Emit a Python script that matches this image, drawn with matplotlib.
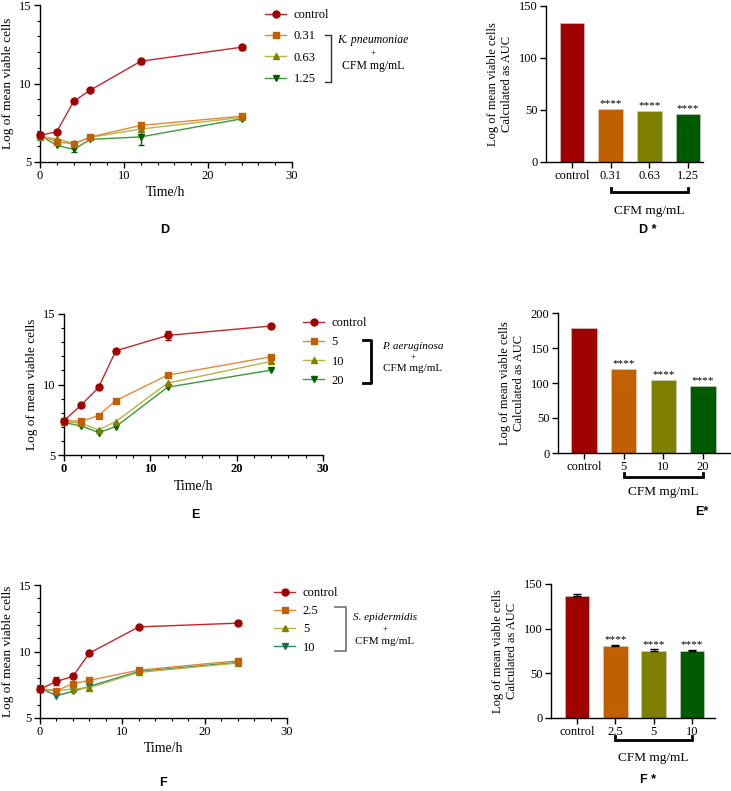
import matplotlib
matplotlib.use("Agg")
import matplotlib.pyplot as plt
from matplotlib.ticker import MultipleLocator
from matplotlib.transforms import blended_transform_factory

plt.rcParams['font.family'] = ['Liberation Serif', 'DejaVu Serif']

W, H = 731, 791
time_h = [0, 2, 4, 6, 12, 24]

# D - K. pneumoniae
d_labels = ['control', '0.31', '0.63', '1.25']
d_vals = [[6.7, 6.93, 8.86, 9.58, 11.42, 12.31],
          [6.7, 6.3, 6.15, 6.6, 7.33, 7.92],
          [6.6, 6.48, 6.19, 6.57, 7.1, 7.84],
          [6.7, 6.06, 5.8, 6.44, 6.6, 7.75]]
d_err = [[0.1, 0.05, 0.05, 0.05, 0.15, 0.15],
         [0, 0, 0, 0, 0, 0],
         [0, 0, 0, 0, 0, 0],
         [0, 0, 0.15, 0, 0.5, 0]]
d_auc = [133, 51, 49, 46.3]
d_auc_err = [0, 0, 0, 0]

# E - P. aeruginosa
e_labels = ['control', '5', '10', '20']
e_vals = [[7.44, 8.55, 9.79, 12.39, 13.48, 14.15],
          [7.44, 7.39, 7.8, 8.86, 10.66, 11.97],
          [7.37, 7.25, 6.78, 7.37, 10.1, 11.64],
          [7.3, 7.06, 6.59, 7.01, 9.81, 11.02]]
e_err = [[0, 0, 0, 0, 0.3, 0],
         [0, 0, 0, 0, 0, 0],
         [0, 0, 0, 0, 0, 0],
         [0, 0, 0, 0, 0, 0]]
e_auc = [179, 120.4, 104.7, 95.7]
e_auc_err = [0, 0, 0, 0]

# F - S. epidermidis
f_labels = ['control', '2.5', '5', '10']
f_vals = [[7.18, 7.75, 8.13, 9.88, 11.85, 12.13],
          [7.18, 7.05, 7.58, 7.83, 8.6, 9.3],
          [7.18, 7.05, 7.18, 7.28, 8.43, 9.13],
          [7.25, 6.68, 7.0, 7.38, 8.5, 9.18]]
f_err = [[0.2, 0.3, 0.1, 0, 0, 0.15],
         [0, 0, 0.15, 0, 0, 0],
         [0, 0, 0, 0, 0, 0],
         [0, 0, 0, 0, 0, 0]]
f_auc = [136.2, 80.2, 75.4, 74.6]
f_auc_err = [3, 1.5, 1.5, 1.5]

line_cols = ['#c0282a', '#e08a3a', '#b5b545', '#3a9a3a']
mark_cols = ['#a00000', '#c06000', '#808000', '#006000']
f_line_cols = ['#c0282a', '#e08a3a', '#b5b545', '#2a8a6a']
f_mark_cols = ['#a00000', '#c06000', '#808000', '#1a6a5a']
markers = ['o', 's', '^', 'v']
bar_cols = ['#a00000', '#c06000', '#808000', '#005a00']

fig = plt.figure(figsize=(W / 100, H / 100), dpi=100)


def add_ax(x0, x1, yt, yb):
    return fig.add_axes([x0 / W, 1 - yb / H, (x1 - x0) / W, (yb - yt) / H])


def style(ax):
    for s in ['top', 'right']:
        ax.spines[s].set_visible(False)
    for s in ['left', 'bottom']:
        ax.spines[s].set_linewidth(1.0)
    ax.tick_params(which='major', length=4, width=1, labelsize=9, pad=2)
    ax.tick_params(which='minor', length=2.5, width=0.8)


def line_panel(box, vals, errs, labels, lcols, mcols, leg_pos, bold_x=False):
    ax = add_ax(*box)
    for i in range(4):
        ax.plot(time_h, vals[i], color=lcols[i], lw=1, marker=markers[i], ms=5,
                mfc=mcols[i], mec=mcols[i], clip_on=False, label=labels[i],
                zorder=3 + (3 - i))
        ex = [t for t, e in zip(time_h, errs[i]) if e > 0]
        ey = [v for v, e in zip(vals[i], errs[i]) if e > 0]
        ee = [e for e in errs[i] if e > 0]
        if ee:
            ax.errorbar(ex, ey, yerr=ee, fmt='none', ecolor=mcols[i],
                        elinewidth=1, capsize=2.5, zorder=3 + (3 - i))
    ax.set_xlim(0, 30)
    ax.set_ylim(5, 15)
    ax.set_xticks([0, 10, 20, 30])
    ax.set_yticks([5, 10, 15])
    ax.xaxis.set_minor_locator(MultipleLocator(2))
    ax.yaxis.set_minor_locator(MultipleLocator(1))
    style(ax)
    if bold_x:
        for t in ax.get_xticklabels():
            t.set_fontweight('bold')
    ax.set_xlabel('Time/h', fontsize=10, labelpad=3)
    ax.set_ylabel('Log of mean viable cells', fontsize=9.5, labelpad=4)
    lx, ly, sp = leg_pos
    ax.legend(loc='upper left', bbox_to_anchor=(lx / W, 1 - ly / H),
              bbox_transform=fig.transFigure, frameon=False, fontsize=9,
              borderpad=0, borderaxespad=0, handlelength=1.7,
              handletextpad=0.6, labelspacing=sp)
    return ax


def legend_bracket(x_left, x_right, y_top, y_bot, col, lw, tx, ty, species, fs):
    xs = [x_left / W, x_right / W, x_right / W, x_left / W]
    ys = [1 - y_top / H, 1 - y_top / H, 1 - y_bot / H, 1 - y_bot / H]
    fig.add_artist(plt.Line2D(xs, ys, color=col, lw=lw, transform=fig.transFigure))
    fig.text(tx / W, 1 - ty[0] / H, species, style='italic', fontsize=fs,
             ha='center', va='center')
    fig.text(tx / W, 1 - ty[1] / H, '+', fontsize=6.5, ha='center', va='center')
    fig.text(tx / W, 1 - ty[2] / H, 'CFM mg/mL', fontsize=fs, ha='center', va='center')


def bar_panel(box, auc, errs, labels, ymax, xlim, brk_y, cfm_y):
    ax = add_ax(*box)
    pos = list(range(len(auc)))
    ax.bar(pos, auc, width=0.64, color=bar_cols, edgecolor='#d0d0d0', linewidth=0.4)
    ep = [p for p, e in zip(pos, errs) if e > 0]
    if ep:
        ax.errorbar(ep, [auc[p] for p in ep], yerr=[[0] * len(ep), [errs[p] for p in ep]],
                    fmt='none', ecolor='black', elinewidth=1, capsize=3, capthick=1)
    for p, v, e in zip(pos[1:], auc[1:], errs[1:]):
        ax.text(p, v + e + ymax * 0.004, '****', ha='center', va='bottom', fontsize=8)
    ax.set_xlim(*xlim)
    ax.set_ylim(0, ymax)
    ax.set_yticks(range(0, ymax + 1, 50))
    ax.set_xticks(pos)
    ax.set_xticklabels(labels)
    style(ax)
    ax.set_ylabel('Log of mean viable cells\nCalculated as AUC', fontsize=9,
                  labelpad=4, linespacing=1.3)
    bb = ax.get_position()
    yb = 1 - brk_y / H
    ya = (yb - bb.y0) / bb.height
    tr = blended_transform_factory(ax.transData, ax.transAxes)
    d = 4 / H / bb.height
    ax.plot([1, 1, 3, 3], [ya + d, ya, ya, ya + d], color='black', lw=2,
            transform=tr, clip_on=False, solid_joinstyle='miter')
    yc = (1 - cfm_y / H - bb.y0) / bb.height
    ax.text(2, yc, 'CFM mg/mL', transform=tr, ha='center', va='center', fontsize=9.5)
    return ax


# row D
line_panel((40, 292, 5, 162), d_vals, d_err, d_labels, line_cols, mark_cols,
           (265, 9, 0.75))
legend_bracket(325, 331, 35, 82, '#303030', 1.0, 373, (40, 53, 66), 'K. pneumoniae', 8.5)
bar_panel((546, 703, 5.7, 162), d_auc, d_auc_err, d_labels, 150, (-0.67, 3.39), 192, 211)
fig.text(165 / W, 1 - 230 / H, 'D', family='Liberation Sans', weight='bold',
         fontsize=9, ha='center', va='center')
fig.text(648 / W, 1 - 230 / H, 'D *', family='Liberation Sans', weight='bold',
         fontsize=9, ha='center', va='center')

# row E
line_panel((64, 323, 314, 455), e_vals, e_err, e_labels, line_cols, mark_cols,
           (303, 317, 0.58), bold_x=True)
legend_bracket(363, 371, 340, 383, 'black', 2.0, 413, (346, 357.5, 369), 'P. aeruginosa', 8)
bar_panel((558, 730, 313, 453), e_auc, e_auc_err, e_labels, 200, (-0.65, 3.68), 477, 492)
fig.text(195 / W, 1 - 515 / H, 'E', family='Liberation Sans', weight='bold',
         fontsize=9, ha='center', va='center')
fig.text(702 / W, 1 - 512 / H, 'E*', family='Liberation Sans', weight='bold',
         fontsize=9, ha='center', va='center')

# row F
line_panel((40, 287, 585, 718), f_vals, f_err, f_labels, f_line_cols, f_mark_cols,
           (274, 587, 0.5))
legend_bracket(335, 346, 607, 651, '#707070', 1.2, 385, (618, 629.5, 641), 'S. epidermidis', 8)
bar_panel((551, 715, 584, 718), f_auc, f_auc_err, f_labels, 150, (-0.68, 3.6), 740, 758)
fig.text(163 / W, 1 - 783 / H, 'F', family='Liberation Sans', weight='bold',
         fontsize=9, ha='center', va='center')
fig.text(648 / W, 1 - 780 / H, 'F *', family='Liberation Sans', weight='bold',
         fontsize=9, ha='center', va='center')

fig.savefig('out.png', dpi=100)
